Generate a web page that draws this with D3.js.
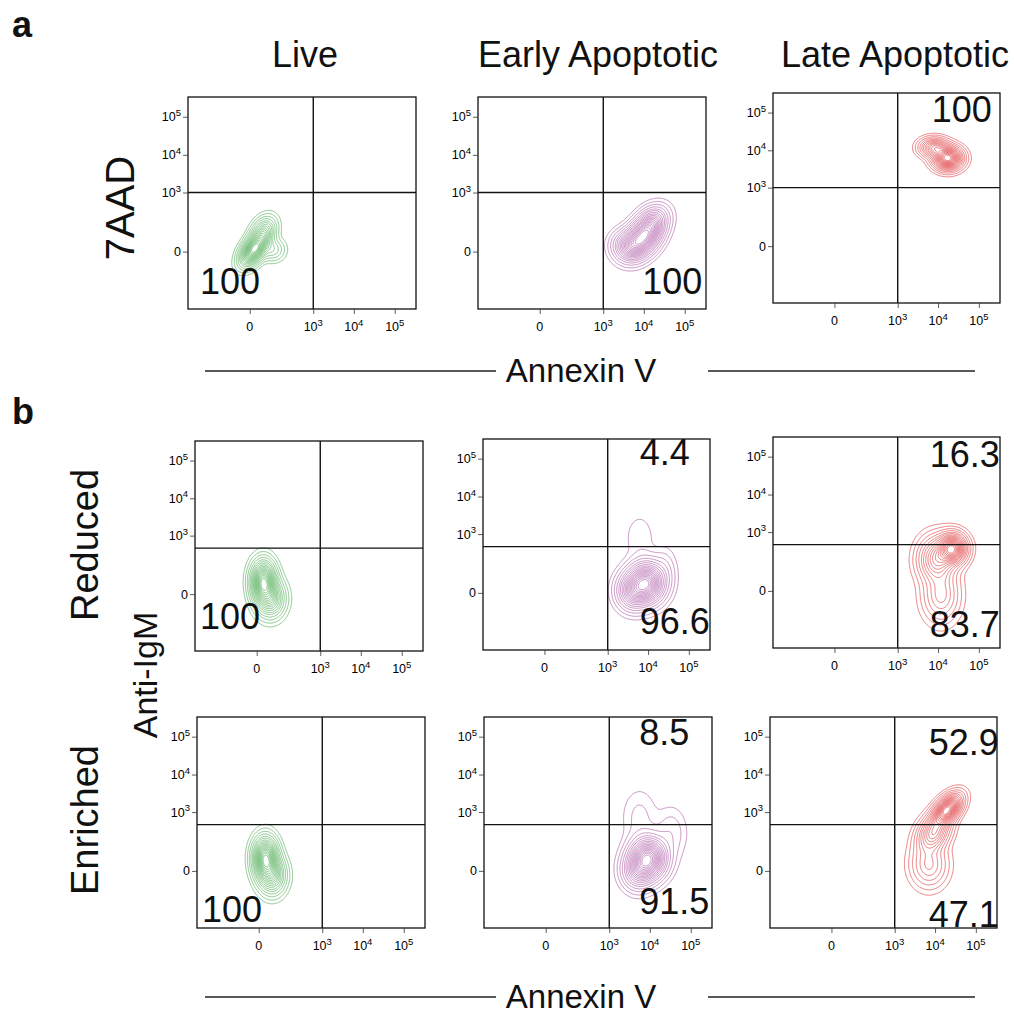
<!DOCTYPE html>
<html><head><meta charset="utf-8">
<script src="https://cdn.jsdelivr.net/npm/d3@7"></script>
<style>body{margin:0;background:#fff} svg{display:block}</style>
</head><body>
<svg id="c" width="1014" height="1014"></svg>
<script>
// ---------------- data ----------------
const columns = ["Live", "Early Apoptotic", "Late Apoptotic"];
const rowNames = ["Reduced", "Enriched"];
const axisTicks = [0, 1e3, 1e4, 1e5];
const axisTickExp = [null, 3, 4, 5];
const scaleDomain = [-900, 330000];
const gateX = 1000;
const gateYa = 1000;   // 7AAD gate
const gateYb = 450;    // anti-IgM gate
// quadrant percentages [upper-right, lower-right, lower-left]
const pctA        = [[null, null, "100"], [null, "100", null], ["100", null, null]];
const pctReduced  = [[null, null, "100"], ["4.4", "96.6", null], ["16.3", "83.7", null]];
const pctEnriched = [[null, null, "100"], ["8.5", "91.5", null], ["52.9", "47.1", null]];
// population components: [x value, y value, x spread, y spread, correlation, weight]
const popA = [
  [[8, 4, 0.033, 0.042, 0.5, 1], [33, 62, 0.03, 0.04, 0.3, 0.4], [75, 4, 0.03, 0.03, 0, 0.15]],
  [[9000, 33, 0.045, 0.05, 0.35, 1], [15000, 124, 0.04, 0.045, 0.3, 0.6], [4200, 13, 0.04, 0.04, 0, 0.45]],
  [[17300, 6200, 0.035, 0.03, 0, 1], [8000, 11800, 0.035, 0.025, 0, 0.5]]
];
const popReduced = [
  [[13, 33, 0.03, 0.055, 0, 1], [33, -9, 0.035, 0.05, 0, 0.5]],
  [[9200, 24, 0.045, 0.055, 0, 1], [4200, 4, 0.04, 0.05, 0, 0.5], [6200, 800, 0.04, 0.07, 0, 0.03], [25600, 88, 0.03, 0.06, 0, 0.06]],
  [[22400, 345, 0.035, 0.04, 0, 1], [9200, 168, 0.045, 0.06, 0, 0.5], [11800, -9, 0.045, 0.07, 0, 0.25]]
];
const popEnriched = [
  [[13, 33, 0.03, 0.055, 0, 1], [33, -9, 0.033, 0.05, 0, 0.5]],
  [[9200, 33, 0.045, 0.055, 0, 1], [5200, 0, 0.04, 0.05, 0, 0.4], [5600, 700, 0.045, 0.08, 0, 0.045], [33000, 262, 0.04, 0.07, 0, 0.06]],
  [[19700, 1150, 0.035, 0.04, 0.5, 1], [9200, 262, 0.04, 0.05, 0.3, 0.5], [7100, 13, 0.045, 0.06, 0, 0.22]]
];
const contourLevels = [0.012, 0.03, 0.06, 0.1, 0.15, 0.2, 0.26, 0.32, 0.38, 0.44, 0.5, 0.56, 0.62, 0.68, 0.74, 0.8, 0.86, 0.92];
const colColors = ["#3da344", "#a54a9d", "#dc2a2e"];

// ---------------- layout ----------------
const FONT = "'Liberation Sans', Arial, Helvetica, sans-serif";
const layout = [
  [{x:188,y:97,w:228,h:212}, {x:478,y:97,w:228,h:212}, {x:773,y:93,w:227,h:210}],
  [{x:195,y:441,w:228,h:210}, {x:483,y:439,w:227,h:211}, {x:773,y:437,w:227,h:211}],
  [{x:197,y:717,w:228,h:211}, {x:484,y:717,w:228,h:211}, {x:770,y:717,w:227,h:211}]
];
// label placement: [UR dx from gate, UR baseline from top, LR dx from gate, LR baseline from bottom, LL dx from left, LL baseline from bottom]
const labelPlace = [
  [[32, 28, 32, -15, 12, -15], [32, 28, 39, -15, 12, -15], [34, 29, 32, -15, 12, -15]],
  [[32, 28, 32, -15, 5, -22], [32, 26, 32, -16, 10, -15], [32, 30, 32, -11, 10, -15]],
  [[32, 28, 32, -15, 5, -6], [30, 28, 30, -14, 10, -15], [34, 38, 34, -1, 10, -15]]
];
const minorTicks = [].concat(
  d3.range(-800, 0, 100), d3.range(-90, 0, 10), d3.range(10, 100, 10),
  d3.range(100, 1000, 100), d3.range(2000, 10000, 1000), d3.range(20000, 100000, 10000), [200000, 300000]);

const svg = d3.select("#c");
let clipId = 0;

function drawPlot(p, pop, color, gateY, pct, lp) {
  const g = svg.append("g").attr("transform", `translate(${p.x},${p.y})`);
  const x = d3.scaleSymlog().constant(29).domain(scaleDomain).range([0, p.w]);
  const y = d3.scaleSymlog().constant(29).domain(scaleDomain).range([p.h, 0]);
  const W = Math.round(p.w), H = Math.round(p.h);
  const comps = pop.map(c => ({cx: x(c[0]), cy: y(c[1]), sx: c[2]*p.w, sy: c[3]*p.h, r: c[4], w: c[5]}));
  const vals = new Float64Array(W*H);
  let max = 0;
  for (let j = 0; j < H; j++) for (let i = 0; i < W; i++) {
    let s = 0;
    for (const c of comps) {
      const dx = (i + 0.5 - c.cx)/c.sx, dy = -(j + 0.5 - c.cy)/c.sy;
      s += c.w*Math.exp(-(dx*dx - 2*c.r*dx*dy + dy*dy)/(2*(1 - c.r*c.r)));
    }
    vals[j*W + i] = s; if (s > max) max = s;
  }
  const cs = d3.contours().size([W, H]).thresholds(contourLevels.map(t => t*max))(vals);
  const id = "clip" + (clipId++);
  g.append("clipPath").attr("id", id).append("rect").attr("width", p.w).attr("height", p.h);
  g.append("g").attr("clip-path", `url(#${id})`).selectAll("path").data(cs).join("path")
    .attr("d", d3.geoPath()).attr("fill", "none").attr("stroke", color)
    .attr("stroke-width", 0.7).attr("stroke-opacity", 0.85);

  // gates
  g.append("line").attr("x1", x(gateX)).attr("x2", x(gateX)).attr("y1", 0).attr("y2", p.h)
    .attr("stroke", "#111").attr("stroke-width", 1.4);
  g.append("line").attr("x1", 0).attr("x2", p.w).attr("y1", y(gateY)).attr("y2", y(gateY))
    .attr("stroke", "#111").attr("stroke-width", 1.4);
  // frame
  g.append("rect").attr("width", p.w).attr("height", p.h).attr("fill", "none")
    .attr("stroke", "#111").attr("stroke-width", 1.3);

  // axes ticks
  const xa = g.append("g").attr("transform", `translate(0,${p.h})`);
  xa.call(d3.axisBottom(x).tickValues(minorTicks).tickSize(3).tickFormat(""));
  xa.call(d3.axisBottom(x).tickValues(axisTicks).tickSize(5).tickFormat(""));
  const ya = g.append("g");
  ya.call(d3.axisLeft(y).tickValues(minorTicks).tickSize(3).tickFormat(""));
  ya.call(d3.axisLeft(y).tickValues(axisTicks).tickSize(5).tickFormat(""));
  g.selectAll(".domain").remove();
  g.selectAll(".tick line").attr("stroke", "#333").attr("stroke-width", 0.8);

  // tick labels
  axisTicks.forEach((v, k) => {
    const tx = g.append("text").attr("x", x(v)).attr("y", p.h + 22).attr("text-anchor", "middle")
      .attr("font-family", FONT).attr("font-size", 12.5).attr("fill", "#000");
    const ty = g.append("text").attr("x", -7).attr("y", y(v) + 4.5).attr("text-anchor", "end")
      .attr("font-family", FONT).attr("font-size", 12.5).attr("fill", "#000");
    [tx, ty].forEach(t => {
      if (axisTickExp[k] === null) t.text("0");
      else {
        t.append("tspan").text("10");
        t.append("tspan").attr("font-size", 9.5).attr("dy", -5.5).text(axisTickExp[k]);
      }
    });
  });

  // quadrant percentages
  const gx = x(gateX);
  const q = [
    {t: pct[0], x: gx + lp[0], y: lp[1]},
    {t: pct[1], x: gx + lp[2], y: p.h + lp[3]},
    {t: pct[2], x: lp[4], y: p.h + lp[5]}
  ];
  q.forEach(d => {
    if (d.t) g.append("text").attr("x", d.x).attr("y", d.y).attr("font-family", FONT)
      .attr("font-size", 36).attr("fill", "#111").text(d.t);
  });
}

const pops = [popA, popReduced, popEnriched];
const pcts = [pctA, pctReduced, pctEnriched];
layout.forEach((row, r) => row.forEach((p, c) =>
  drawPlot(p, pops[r][c], colColors[c], r === 0 ? gateYa : gateYb, pcts[r][c], labelPlace[r][c])));

// text
function txt(x, y, s, size, opts = {}) {
  const t = svg.append("text").attr("x", x).attr("y", y).attr("font-family", FONT)
    .attr("font-size", size).attr("fill", "#111").attr("text-anchor", opts.anchor || "middle")
    .attr("font-weight", opts.bold ? "bold" : "normal").text(s);
  if (opts.rot) t.attr("transform", `rotate(-90,${x},${y})`).attr("dy", "0.35em");
  return t;
}
txt(12, 37, "a", 36, {anchor: "start", bold: true});
txt(12, 424, "b", 36, {anchor: "start", bold: true});
const colCenters = [305, 598, 895];
columns.forEach((s, i) => txt(colCenters[i], 67, s, 36));
txt(120, 208, "7AAD", 40, {rot: true});
txt(85, 545, rowNames[0], 38, {rot: true});
txt(145, 675, "Anti-IgM", 34, {rot: true});
txt(85, 820, rowNames[1], 38, {rot: true});

function axisTitle(yl) {
  svg.append("line").attr("x1", 205).attr("x2", 496).attr("y1", yl).attr("y2", yl).attr("stroke", "#222").attr("stroke-width", 1.3);
  svg.append("line").attr("x1", 708).attr("x2", 975).attr("y1", yl).attr("y2", yl).attr("stroke", "#222").attr("stroke-width", 1.3);
  txt(581, yl + 11, "Annexin V", 33);
}
axisTitle(371);
axisTitle(997);
</script>
</body></html>
